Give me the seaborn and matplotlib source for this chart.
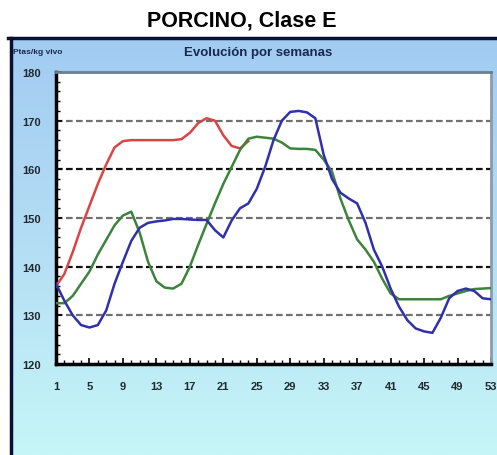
import numpy as np
import pandas as pd
import seaborn as sns
import matplotlib.pyplot as plt
from matplotlib.colors import LinearSegmentedColormap

# semanas
weeks = list(range(1, 54))
x_ticks = list(range(1, 54, 4))
y_ticks = [120, 130, 140, 150, 160, 170, 180]

# precios (ptas/kg vivo)
serie_roja = [136, 138.5, 143, 148, 152.5, 157, 161, 164.5, 165.8, 166,
              166, 166, 166, 166, 166, 166.2, 167.5, 169.5, 170.5, 170,
              167, 164.8, 164.3, 165.8]
serie_verde = [132.5, 132.5, 134, 136.5, 139, 142.5, 145.5, 148.5, 150.5, 151.3,
               147, 141, 137, 135.7, 135.5, 136.5, 140, 144.5, 148.8, 153,
               157, 160.5, 164, 166.3, 166.7, 166.5, 166.3, 165.5, 164.3, 164.2,
               164.2, 164, 162, 159.5, 154, 149.5, 145.6, 143.5, 141, 137.5,
               134.5, 133.3, 133.3, 133.3, 133.3, 133.3, 133.3, 134, 134.5, 135,
               135.4, 135.5, 135.6]
serie_azul = [136.5, 133, 130, 128, 127.5, 128, 131, 136.5, 141, 145.3,
              148, 149, 149.3, 149.5, 149.8, 149.8, 149.7, 149.6, 149.6, 147.5,
              146, 149.5, 152, 153, 156, 160.5, 166, 170, 171.8, 172,
              171.7, 170.5, 163, 158, 155.2, 154, 153, 149, 143.5, 140,
              135.5, 131.8, 129, 127.3, 126.7, 126.4, 129.5, 133.5, 135, 135.5,
              135, 133.5, 133.3]

series = {'rojo': serie_roja, 'verde': serie_verde, 'azul': serie_azul}
colores = {'rojo': '#dc4444', 'verde': '#3c843c', 'azul': '#3030ac'}

rows = []
for name, vals in series.items():
    for w, v in zip(weeks, vals):
        rows.append({'semana': w, 'precio': v, 'serie': name})
df = pd.DataFrame(rows)

W, H = 497, 456
fig = plt.figure(figsize=(W / 100, H / 100), dpi=100)
fig.patch.set_facecolor('white')

# fondo degradado del recuadro
bg = fig.add_axes([10 / W, 0, 1 - 10 / W, (H - 39) / H])
cmap = LinearSegmentedColormap.from_list('fondo', ['#a2cbf2', '#b4def4', '#c6f6f8'])
bg.imshow(np.linspace(0, 1, 200).reshape(-1, 1), aspect='auto', cmap=cmap,
          extent=[0, 1, 0, 1])
bg.set_xlim(0, 1)
bg.set_ylim(0, 1)
bg.axis('off')
fig.add_artist(plt.Line2D([8 / W, 1], [1 - 39 / H, 1 - 39 / H], color='#0a1030', lw=2.5))
fig.add_artist(plt.Line2D([11 / W, 11 / W], [0, 1 - 39 / H], color='#0a1030', lw=2.5))

fig.text(0.4855, 1 - 21 / H, 'PORCINO, Clase E', ha='center', va='center',
         fontsize=15.5, fontweight='bold', family='Liberation Sans')
fig.text(258 / W, 1 - 53 / H, 'Evolución por semanas', ha='center', va='center',
         fontsize=9.5, fontweight='bold', color='#1a2850', family='Liberation Sans')
fig.text(13 / W, 1 - 52 / H, 'Ptas/kg vivo', ha='left', va='center',
         fontsize=6, fontweight='bold', color='#1a2850', family='Liberation Sans')

ax = fig.add_axes([56 / W, 1 - 365 / H, 435 / W, 292 / H])
ax.set_facecolor('white')

for i, y in enumerate(y_ticks[1:-1]):
    ax.axhline(y, color='#101010' if i % 2 else '#707070', lw=1.6,
               ls=(0, (3, 1.5)), zorder=1)

sns.lineplot(data=df, x='semana', y='precio', hue='serie', palette=colores,
             lw=1.8, ax=ax, legend=False, zorder=3)

ax.set_xlim(1, 53)
ax.set_ylim(120, 180)
ax.set_xticks(x_ticks)
ax.set_xticks(weeks, minor=True)
ax.set_yticks(y_ticks)
ax.set_yticks(list(range(120, 181, 2)), minor=True)
ax.set_xlabel('')
ax.set_ylabel('')
ax.tick_params(axis='both', which='both', direction='in', color='black')
ax.tick_params(axis='both', which='major', length=4, width=1.2, labelsize=8)
ax.tick_params(axis='both', which='minor', length=3, width=1)
ax.tick_params(axis='x', which='major', pad=12)
ax.tick_params(axis='y', which='major', pad=11)
for lab in ax.get_xticklabels() + ax.get_yticklabels():
    lab.set_color('#202830')
    lab.set_family('Liberation Sans')
    lab.set_fontweight('bold')

ax.spines['left'].set_color('black')
ax.spines['left'].set_linewidth(2.5)
ax.spines['bottom'].set_color('black')
ax.spines['bottom'].set_linewidth(2.5)
ax.spines['top'].set_color('#6a8090')
ax.spines['top'].set_linewidth(2)
ax.spines['right'].set_color('#8a9cac')
ax.spines['right'].set_linewidth(2)

plt.savefig('out.png', dpi=100)
